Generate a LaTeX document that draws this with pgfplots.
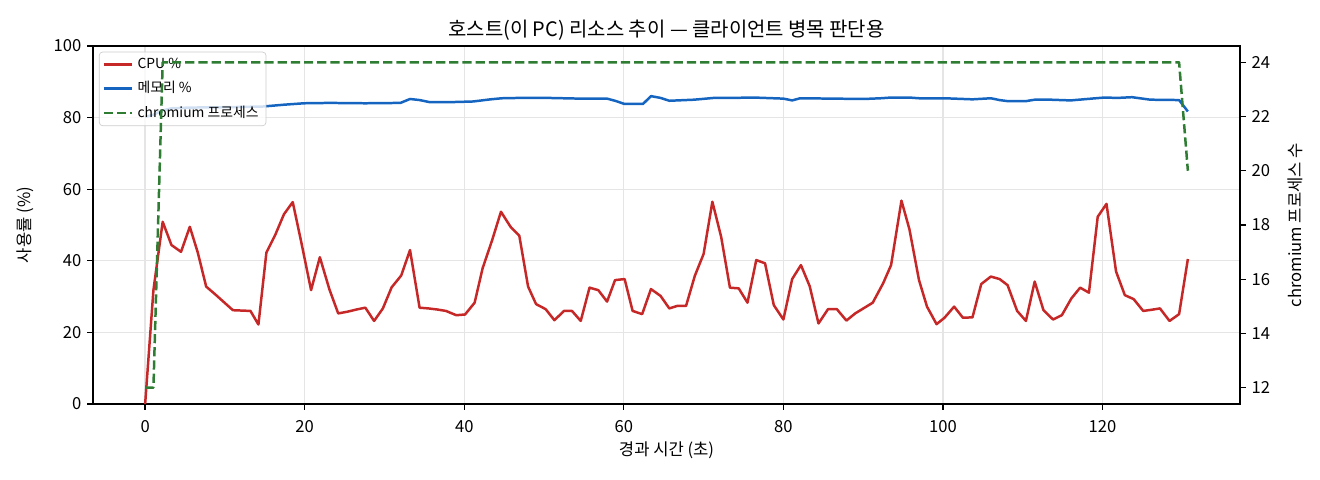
\documentclass[border=0pt]{standalone}
\usepackage{fontspec}
\setmainfont{Noto Sans CJK KR}
\usepackage{pgfplots}
\pgfplotsset{compat=1.18}

\definecolor{cpured}{HTML}{C62828}
\definecolor{memblue}{HTML}{1565C0}
\definecolor{chrgreen}{HTML}{2E7D32}

% 1 px of the reference = 0.6bp (11in x 4in figure)
\pgfplotsset{
  base/.style={
    scale only axis, width=688.2bp, height=214.8bp,
    at={(55.8bp,45.6bp)}, anchor=south west,
    xmin=-6.535, xmax=137.235,
    tick align=outside, major tick length=3.5pt,
    every tick/.style={line width=0.8pt, black},
    axis line style={line width=0.8pt},
    /pgf/number format/assume math mode=true,
    tick label style={font=\fontsize{10}{12}\selectfont},
  },
}

\begin{document}
\begin{tikzpicture}
\begin{axis}[base,
    ymin=0, ymax=100,
    xtick={0,20,...,120}, ytick={0,20,...,100},
    xtick pos=left, ytick pos=left,
    xticklabel style={yshift=-3bp},
    grid=major, grid style={line width=0.8pt, black!10},
    legend cell align=left,
    legend style={at={(0.0052,0.984)}, anchor=north west,
      font=\fontsize{8.33}{10}\selectfont,
      draw=black!20, rounded corners=2pt,
      fill=white, fill opacity=0.8, text opacity=1,
      inner xsep=2bp, inner ysep=2bp, row sep=3.4bp,
      nodes={inner ysep=1.5bp, inner xsep=2.5bp, anchor=west}},
    legend image code/.code={\draw[#1] (0bp,0bp) -- (17bp,0bp);},
  ]
  \addplot[cpured, line width=1.5pt, line join=round] coordinates {
    (0,0.0) (1.04,31.8) (2.2,50.9) (3.3,44.4) (4.5,42.5) (5.6,49.5)
    (6.6,42.3) (7.65,32.8) (8.8,30.6) (9.9,28.4) (11.0,26.2) (12.1,26.1)
    (13.2,26.0) (14.2,22.2) (15.2,42.3) (16.3,47.2) (17.4,53.0) (18.5,56.4)
    (19.6,44.9) (20.8,31.8) (21.9,41.0) (23.1,32.0) (24.2,25.3) (25.4,25.8)
    (26.5,26.4) (27.6,26.9) (28.7,23.2) (29.8,26.7) (30.9,32.6) (32.1,35.9)
    (33.2,43.0) (34.4,26.9) (35.5,26.7) (36.6,26.4) (37.7,26.0) (39.0,24.8)
    (40.1,25.0) (41.3,28.3) (42.3,37.9) (43.5,45.8) (44.6,53.7) (45.8,49.5)
    (46.9,47.0) (48.0,32.8) (49.0,27.9) (50.2,26.5) (51.3,23.4) (52.5,26.0)
    (53.5,26.0) (54.6,23.2) (55.7,32.5) (56.8,31.8) (57.9,28.6) (58.9,34.6)
    (60.1,34.9) (61.1,26.0) (62.3,25.1) (63.4,32.1) (64.6,30.2) (65.7,26.7)
    (66.7,27.4) (67.8,27.4) (68.9,35.8) (70.0,41.9) (71.1,56.5) (72.2,46.7)
    (73.3,32.5) (74.4,32.3) (75.5,28.3) (76.6,40.2) (77.7,39.3) (78.8,27.6)
    (80.0,23.6) (81.1,34.9) (82.2,38.8) (83.3,32.9) (84.4,22.5) (85.6,26.5)
    (86.7,26.5) (87.9,23.3) (89.0,25.3) (90.1,26.8) (91.2,28.3) (92.5,33.7)
    (93.5,38.8) (94.8,56.8) (95.8,48.8) (97.0,34.6) (98.0,27.2) (99.2,22.3)
    (100.2,24.1) (101.4,27.2) (102.5,24.1) (103.7,24.2) (104.8,33.5) (106.0,35.6)
    (107.1,34.9) (108.1,33.2) (109.3,26.0) (110.4,23.2) (111.5,34.2) (112.6,26.2)
    (113.8,23.6) (114.9,24.8) (116.1,29.5) (117.2,32.5) (118.3,31.1) (119.4,52.3)
    (120.5,55.9) (121.7,37.0) (122.8,30.4) (123.9,29.3) (125.1,26.0) (126.1,26.3)
    (127.2,26.7) (128.4,23.2) (129.6,25.1) (130.7,40.5)
  };
  \addlegendentry{CPU \%}
  \addplot[memblue, line width=1.5pt, line join=round] coordinates {
    (0,80.2) (1.04,80.8) (2.2,82.0) (3.3,82.6) (5.6,82.8) (10,82.9)
    (14.8,83.1) (17.4,83.6) (19.9,84.0) (23.1,84.1) (27.6,84.0) (32.0,84.1)
    (33.2,85.2) (34.4,84.9) (35.7,84.3) (38,84.3) (41.1,84.5) (43.3,85.1)
    (44.7,85.4) (47.0,85.5) (50.4,85.5) (54.5,85.3) (57.9,85.3) (58.9,84.7)
    (60.1,83.8) (62.4,83.8) (63.4,86.0) (64.6,85.5) (65.7,84.7) (68.8,85.0)
    (71.3,85.5) (73.4,85.5) (76.3,85.6) (80.0,85.3) (81.1,84.8) (82.1,85.4)
    (90.1,85.2) (92.2,85.4) (93.5,85.6) (95.8,85.6) (97,85.4) (100.2,85.4)
    (103.7,85.1) (106,85.4) (107.1,84.9) (108.1,84.6) (110.4,84.6) (111.5,85.0)
    (113.5,85.0) (116.0,84.8) (120.2,85.6) (121.9,85.5) (123.7,85.7) (126.0,85.0)
    (129.6,84.9) (130.7,81.7)
  };
  \addlegendentry{메모리 \%}
  \addlegendimage{chrgreen, line width=1.5pt, dash pattern=on 5.55pt off 2.4pt}
  \addlegendentry{chromium 프로세스}
\end{axis}

\begin{axis}[base,
    axis x line=none, axis y line*=right,
    ymin=11.4, ymax=24.6, ytick={12,14,...,24},
  ]
  \addplot[chrgreen, line width=1.5pt, line join=round,
    dash pattern=on 5.55pt off 2.4pt] coordinates {
    (0,12) (1.04,12) (2.2,24) (129.6,24) (130.7,20)
  };
\end{axis}

\node[font=\fontsize{12}{14}\selectfont] at (399.9bp,270bp)
  {호스트(이 PC) 리소스 추이 — 클라이언트 병목 판단용};
\node[font=\fontsize{10}{12}\selectfont] at (399.9bp,18bp) {경과 시간 (초)};
\node[font=\fontsize{10}{12}\selectfont, rotate=90] at (15bp,153bp) {사용률 (\%)};
\node[font=\fontsize{10}{12}\selectfont, rotate=90] at (777bp,153bp) {chromium 프로세스 수};

\pgfresetboundingbox
\path (0,0) rectangle (792bp,288bp);
\end{tikzpicture}
\end{document}
